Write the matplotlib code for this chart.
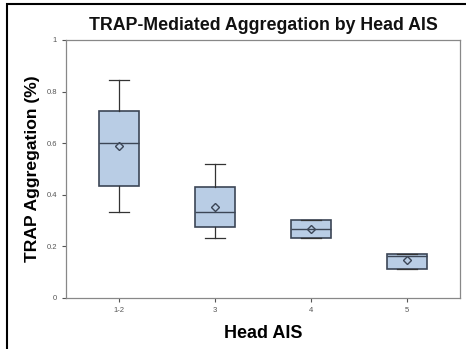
import matplotlib
matplotlib.use("Agg")
import matplotlib.pyplot as plt
from matplotlib.patches import Rectangle

plt.rcParams["font.family"] = ["Liberation Sans", "DejaVu Sans"]

# box statistics per Head AIS group
groups = ["1-2", "3", "4", "5"]
whisker_low = [0.332, 0.234, 0.233, 0.112]
q1 = [0.435, 0.276, 0.233, 0.112]
median = [0.600, 0.332, 0.269, 0.163]
q3 = [0.725, 0.432, 0.302, 0.172]
whisker_high = [0.845, 0.518, 0.302, 0.172]
mean = [0.590, 0.354, 0.269, 0.147]

stats = []
for i in range(len(groups)):
    stats.append({"label": groups[i], "whislo": whisker_low[i], "q1": q1[i],
                  "med": median[i], "q3": q3[i], "whishi": whisker_high[i],
                  "mean": mean[i], "fliers": []})

fig = plt.figure(figsize=(4.66, 3.49), dpi=100)
ax = fig.add_axes([66/466, 1 - 298/349, (460-66)/466, (298-40)/349])

edge = "#3c4656"
ax.bxp(stats, positions=range(len(groups)), widths=0.41, patch_artist=True,
       showmeans=True, showcaps=True,
       boxprops=dict(facecolor="#b9cde5", edgecolor=edge, linewidth=1.2),
       medianprops=dict(color=edge, linewidth=1.0),
       whiskerprops=dict(color="#333333", linewidth=0.9),
       capprops=dict(color="#333333", linewidth=0.9),
       meanprops=dict(marker="D", markersize=4, markerfacecolor="none",
                      markeredgecolor=edge, markeredgewidth=1.0))

ax.set_xlim(-0.55, 3.55)
ax.set_ylim(0, 1)
ax.set_yticks([0, 0.2, 0.4, 0.6, 0.8, 1])
ax.set_yticklabels(["0", "0.2", "0.4", "0.6", "0.8", "1"])
ax.tick_params(axis="both", labelsize=5.5, colors="#555555", length=3, width=0.8)
for s in ax.spines.values():
    s.set_color("#888888")
    s.set_linewidth(0.9)

ax.set_title("TRAP-Mediated Aggregation by Head AIS", fontsize=12.8,
             fontweight="bold", color="#111111", pad=7)
ax.set_ylabel("TRAP Aggregation (%)", fontsize=12.6, fontweight="bold", labelpad=5)
ax.set_xlabel("Head AIS", fontsize=13, fontweight="bold", labelpad=8)

# outer frame, cut off on the right and bottom
fig.patches.append(Rectangle((7/466, -0.05), 1.0, 1.05 - 4/349, transform=fig.transFigure,
                             fill=False, edgecolor="black", linewidth=1.5))

fig.savefig("out.png", dpi=100)
